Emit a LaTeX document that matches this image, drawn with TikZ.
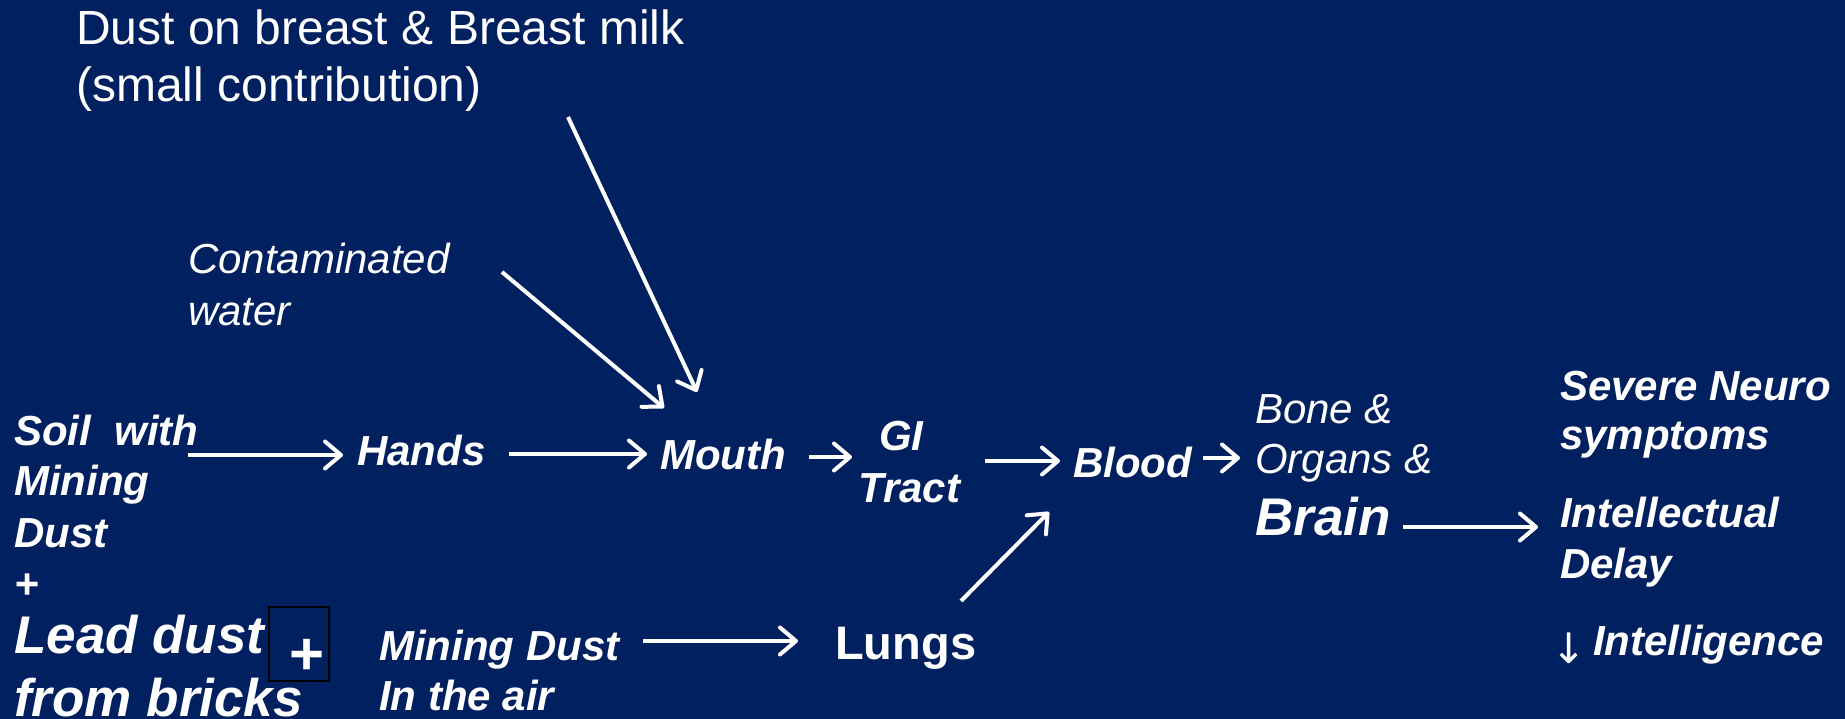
\documentclass[tikz,border=0pt]{standalone}
\usepackage{fontspec}
\setmainfont{Liberation Sans}
\newfontfamily\dejavu{DejaVu Sans}
\usetikzlibrary{arrows.meta,calc}
\definecolor{bgblue}{HTML}{002060}
\begin{document}
\begin{tikzpicture}[x=1pt,y=-1pt,
  txt/.style={inner sep=0pt, anchor=base west, text=white},
  reg/.style={txt, font=\fontsize{48}{58}\selectfont},
  ital/.style={txt, font=\fontsize{42}{50}\selectfont\itshape},
  bi/.style={txt, font=\fontsize{42}{50}\selectfont\bfseries\itshape},
  bibig/.style={txt, font=\fontsize{53}{64}\selectfont\bfseries\itshape},
  bold/.style={txt, font=\fontsize{47}{56}\selectfont\bfseries},
  arr/.style={draw=white, line width=4pt, -{Straight Barb[length=16pt,width=27pt,line join=round,line cap=round]}}
]
\fill[bgblue] (0,0) rectangle (1845,719);
\useasboundingbox (0,0) rectangle (1845,719);

\node[reg] (dust1) at (76,45) {Dust on breast \& Breast milk};
\node[reg] (dust2) at (76,102) {(small contribution)};
\node[ital] (cont1) at (188,274) {Contaminated};
\node[ital] (cont2) at (188,326) {water};
\node[bi] (soil1) at (14,445) {Soil\ \ with};
\node[bi] (soil2) at (14,495) {Mining};
\node[bi] (soil3) at (14,547) {Dust};
\node[bi] (plus1) at (14,598) {+};
\node[bibig] (lead1) at (14,653) {Lead dust};
\node[bibig] (lead2) at (14,716) {from bricks};
\node[draw=black, line width=1.5pt, minimum width=60pt, minimum height=74pt, inner sep=0pt] (pbox) at (299,644) {};
\node[text=white, inner sep=0pt, font=\fontsize{60}{60}\selectfont\bfseries] (plus2) at (307,657) {+};

\node[bi] (hands) at (357,465) {Hands};
\node[bi] (mouth) at (660,469) {Mouth};
\node[bi] (gi1) at (879,450) {GI};
\node[bi] (gi2) at (858,502) {Tract};
\node[bi] (blood) at (1073,477) {Blood};
\node[ital] (bone1) at (1255,423) {Bone \&};
\node[ital] (bone2) at (1255,473) {Organs \&};
\node[bibig] (brain) at (1255,535) {Brain};
\node[bi] (sev1) at (1560,400) {Severe Neuro};
\node[bi] (sev2) at (1560,449) {symptoms};
\node[bi] (int1) at (1560,527) {Intellectual};
\node[bi] (int2) at (1560,578) {Delay};
\node[txt, font=\fontsize{42}{50}\selectfont\dejavu] (down) at (1551,663) {↓};
\node[bi] (intel) at (1593,655) {Intelligence};
\node[bi] (mining1) at (379,660) {Mining Dust};
\node[bi] (mining2) at (379,710) {In the air};
\node[bold] (lungs) at (835,659) {Lungs};

\draw[arr] ($(soil1.base west)+(174,10)$) -- ($(hands.base west)+(-14,-10)$);
\draw[arr] ($(hands.base west)+(152,-11)$) -- ($(mouth.base west)+(-13,-15)$);
\draw[arr] ($(dust2.base west)+(492,15)$) -- ($(mouth.base west)+(37,-77)$);
\draw[arr] ($(cont1.base west)+(314,-2)$) -- ($(mouth.base west)+(4,-61)$);
\draw[arr] ($(mouth.base west)+(149,-12)$) -- ($(gi1.base west)+(-27,7)$);
\draw[arr] ($(gi1.base west)+(106,11)$) -- ($(blood.base west)+(-13,-16)$);
\draw[arr] ($(blood.base west)+(130,-19)$) -- ($(bone2.base west)+(-15,-15)$);
\draw[arr] ($(mining1.base west)+(264,-19)$) -- ($(lungs.base west)+(-37,-18)$);
\draw[arr] ($(lungs.base west)+(126,-58)$) -- ($(blood.base west)+(-24,35)$);
\draw[arr] ($(brain.base west)+(148,-8)$) -- ($(int1.base west)+(-22,0)$);
\end{tikzpicture}
\end{document}
